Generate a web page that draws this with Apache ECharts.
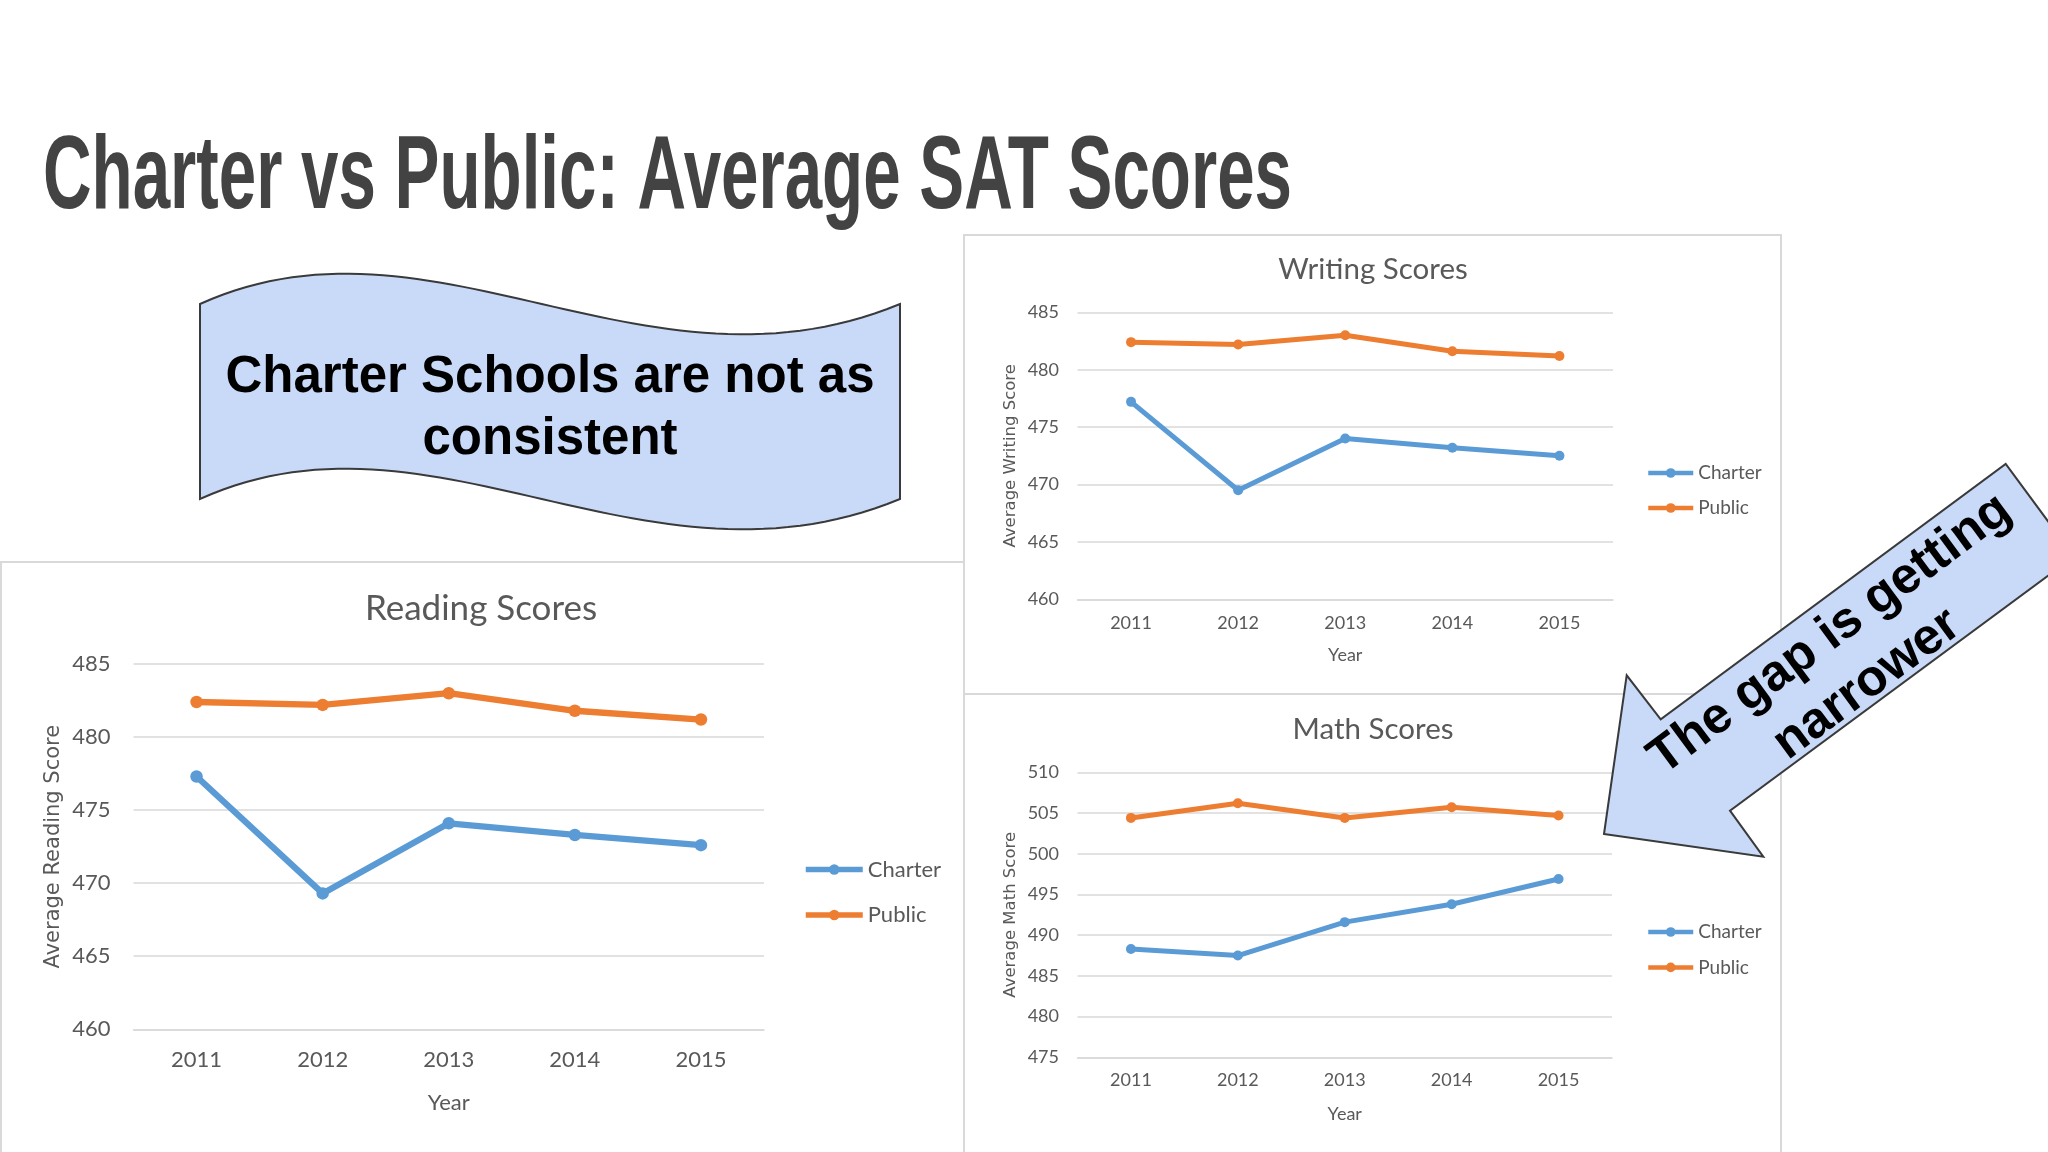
<!DOCTYPE html>
<html><head><meta charset="utf-8">
<script src="https://cdn.jsdelivr.net/npm/echarts@6/dist/echarts.min.js"></script>
<style>html,body{margin:0;padding:0;background:#fff}#c{width:2048px;height:1152px}</style>
</head><body><div id="c"></div>
<script>
// ---- data ----
const years = ['2011', '2012', '2013', '2014', '2015'];
const readingCharter = [477.3, 469.3, 474.1, 473.3, 472.6];
const readingPublic  = [482.4, 482.2, 483.0, 481.8, 481.2];
const writingCharter = [477.2, 469.5, 474.0, 473.2, 472.5];
const writingPublic  = [482.4, 482.2, 483.0, 481.6, 481.2];
const mathCharter    = [488.3, 487.5, 491.6, 493.8, 496.9];
const mathPublic     = [504.4, 506.2, 504.4, 505.7, 504.7];
const readingRange = [460, 485];
const writingRange = [460, 485];
const mathRange    = [475, 510];
const tickStep = 5;
const seriesNames = ['Charter', 'Public'];
const chartTitles = ['Reading Scores', 'Writing Scores', 'Math Scores'];
const axisNames = ['Average Reading Score', 'Average Writing Score', 'Average Math Score'];
const xAxisName = 'Year';
const slideTitle = 'Charter vs Public: Average SAT Scores';
const bannerLines = ['Charter Schools are not as', 'consistent'];
const arrowLines = ['The gap is getting', 'narrower'];

// ---- styling ----
const C_BLUE = '#5b9bd5', C_ORANGE = '#ed7d31', C_TXT = '#595959', C_GRID = '#d9d9d9';
const FONT = 'Lato';

function fitScale(text, font, w) {
  const ctx = document.createElement('canvas').getContext('2d');
  ctx.font = font;
  return w / ctx.measureText(text).width;
}

const panels = [
  { grid: {left: 133.5, top: 664, width: 630.5, height: 365.3}, range: readingRange, data: [readingCharter, readingPublic],
    lab: 22, labMargin: 20, yMargin: 23, nameSize: 22, nameGap: 63, yNameSize: 21, yNameGap: 69,
    lw: 6.3, sym: 12.5, legend: {left: 803, top: 856.5, gap: 19.5, w: 57, fs: 22, lh: 26, lw: 5.5, ih: 13},
    title: {x: 481, y: 609, fs: 35} },
  { grid: {left: 1077.5, top: 312.3, width: 535.5, height: 287}, range: writingRange, data: [writingCharter, writingPublic],
    lab: 18, labMargin: 15, yMargin: 18.5, nameSize: 18, nameGap: 47, yNameSize: 16.5, yNameGap: 58,
    lw: 5, sym: 10, legend: {left: 1646, top: 462, gap: 13, w: 45, fs: 19, lh: 22, lw: 4.5, ih: 12},
    title: {x: 1373, y: 269.5, fs: 29.5} },
  { grid: {left: 1077.5, top: 772.3, width: 534.5, height: 285}, range: mathRange, data: [mathCharter, mathPublic],
    lab: 18, labMargin: 14, yMargin: 18.5, nameSize: 18, nameGap: 48, yNameSize: 16.5, yNameGap: 58,
    lw: 5, sym: 10, legend: {left: 1646, top: 921, gap: 13.4, w: 45, fs: 19, lh: 22, lw: 4.5, ih: 12},
    title: {x: 1373, y: 729.5, fs: 29.5} }
];

const grid = [], xAxis = [], yAxis = [], series = [], legend = [];
panels.forEach((p, i) => {
  grid.push(Object.assign({outerBoundsMode: 'none', containLabel: false}, p.grid));
  xAxis.push({
    type: 'category', gridIndex: i, data: years, boundaryGap: true,
    axisTick: {show: false},
    axisLine: {show: true, lineStyle: {color: C_GRID, width: 1.5}},
    axisLabel: {color: C_TXT, fontFamily: FONT, fontSize: p.lab, margin: p.labMargin},
    name: xAxisName, nameLocation: 'middle', nameGap: p.nameGap,
    nameTextStyle: {color: C_TXT, fontFamily: FONT, fontSize: p.nameSize}
  });
  yAxis.push({
    type: 'value', gridIndex: i, min: p.range[0], max: p.range[1], interval: tickStep,
    axisLine: {show: false}, axisTick: {show: false},
    splitLine: {lineStyle: {color: C_GRID, width: 1.5}},
    axisLabel: {color: C_TXT, fontFamily: FONT, fontSize: p.lab, margin: p.yMargin},
    name: axisNames[i], nameLocation: 'middle', nameGap: p.yNameGap,
    nameTextStyle: {color: C_TXT, fontFamily: 'DejaVu Sans', fontSize: p.yNameSize}
  });
  seriesNames.forEach((n, k) => {
    const col = k === 0 ? C_BLUE : C_ORANGE;
    series.push({
      type: 'line', name: n, xAxisIndex: i, yAxisIndex: i, data: p.data[k],
      symbol: 'circle', symbolSize: p.sym, showSymbol: true,
      lineStyle: {color: col, width: p.lw}, itemStyle: {color: col},
      emphasis: {disabled: true}, animation: false
    });
  });
  legend.push({
    orient: 'vertical', left: p.legend.left, top: p.legend.top, padding: 0,
    itemGap: p.legend.gap, itemWidth: p.legend.w, itemHeight: p.legend.ih,
    data: seriesNames, selectedMode: false,
    lineStyle: {width: p.legend.lw},
    textStyle: {color: C_TXT, fontFamily: FONT, fontSize: p.legend.fs, lineHeight: p.legend.lh}
  });
});

// ---- decorative shapes ----
function bez(p0, p1, p2, p3, t) {
  const u = 1 - t;
  return [u*u*u*p0[0] + 3*u*u*t*p1[0] + 3*u*t*t*p2[0] + t*t*t*p3[0],
          u*u*u*p0[1] + 3*u*u*t*p1[1] + 3*u*t*t*p2[1] + t*t*t*p3[1]];
}
const bannerPts = [];
for (let s = 0; s <= 60; s++) bannerPts.push(bez([200, 304], [433, 199], [645, 409], [900, 304], s / 60));
for (let s = 0; s <= 60; s++) bannerPts.push(bez([900, 499], [645, 604], [433, 394], [200, 499], s / 60));

const arrowPts = [[1604, 834], [1763.3, 856.7], [1730, 810.7], [2074, 556.5], [2005.7, 464], [1660.7, 719.3], [1626.7, 675.3]];

const titleFont = 'bold 103px "Liberation Sans"';
const titleScale = fitScale(slideTitle, titleFont, 1249);

const graphic = [
  // panel borders
  {type: 'rect', shape: {x: 1, y: 562, width: 963, height: 600}, style: {fill: 'none', stroke: C_GRID, lineWidth: 2}, z: 1},
  {type: 'rect', shape: {x: 964, y: 235, width: 817, height: 459}, style: {fill: 'none', stroke: C_GRID, lineWidth: 2}, z: 1},
  {type: 'rect', shape: {x: 964, y: 694, width: 817, height: 470}, style: {fill: 'none', stroke: C_GRID, lineWidth: 2}, z: 1},
  // slide title
  {type: 'text', x: 43, y: 180, scaleX: titleScale, z: 10,
   style: {text: slideTitle, font: titleFont, fill: '#434343', align: 'left', verticalAlign: 'middle'}},
  // chart titles
  ...panels.map((p, i) => ({type: 'text', x: p.title.x, y: p.title.y, z: 10,
    style: {text: chartTitles[i], fontFamily: FONT, fontSize: p.title.fs, fill: C_TXT, align: 'center', verticalAlign: 'middle'}})),
  // banner
  {type: 'polygon', shape: {points: bannerPts}, style: {fill: '#c9daf8', stroke: '#3a3a3a', lineWidth: 2}, z: 5},
  {type: 'text', x: 550, y: 377.5, z: 6,
   style: {text: bannerLines[0], font: 'bold 51px "Liberation Sans"', fill: '#000', align: 'center', verticalAlign: 'middle'}},
  {type: 'text', x: 550, y: 439.5, z: 6,
   style: {text: bannerLines[1], font: 'bold 51px "Liberation Sans"', fill: '#000', align: 'center', verticalAlign: 'middle'}},
  // arrow
  {type: 'polygon', shape: {points: arrowPts}, style: {fill: '#c9daf8', stroke: '#3a3a3a', lineWidth: 2}, z: 20},
  {type: 'group', x: 1847, y: 657, rotation: 36.5 * Math.PI / 180, z: 21, children: [
    {type: 'text', x: 0, y: -28, z: 21,
     style: {text: arrowLines[0], font: 'bold 51px "Liberation Sans"', fill: '#000', align: 'center', verticalAlign: 'middle'}},
    {type: 'text', x: 0, y: 34, z: 21,
     style: {text: arrowLines[1], font: 'bold 51px "Liberation Sans"', fill: '#000', align: 'center', verticalAlign: 'middle'}}
  ]}
];

const chart = echarts.init(document.getElementById('c'));
chart.setOption({
  backgroundColor: '#ffffff',
  animation: false,
  grid, xAxis, yAxis, series, legend, graphic
});
</script>
</body></html>
